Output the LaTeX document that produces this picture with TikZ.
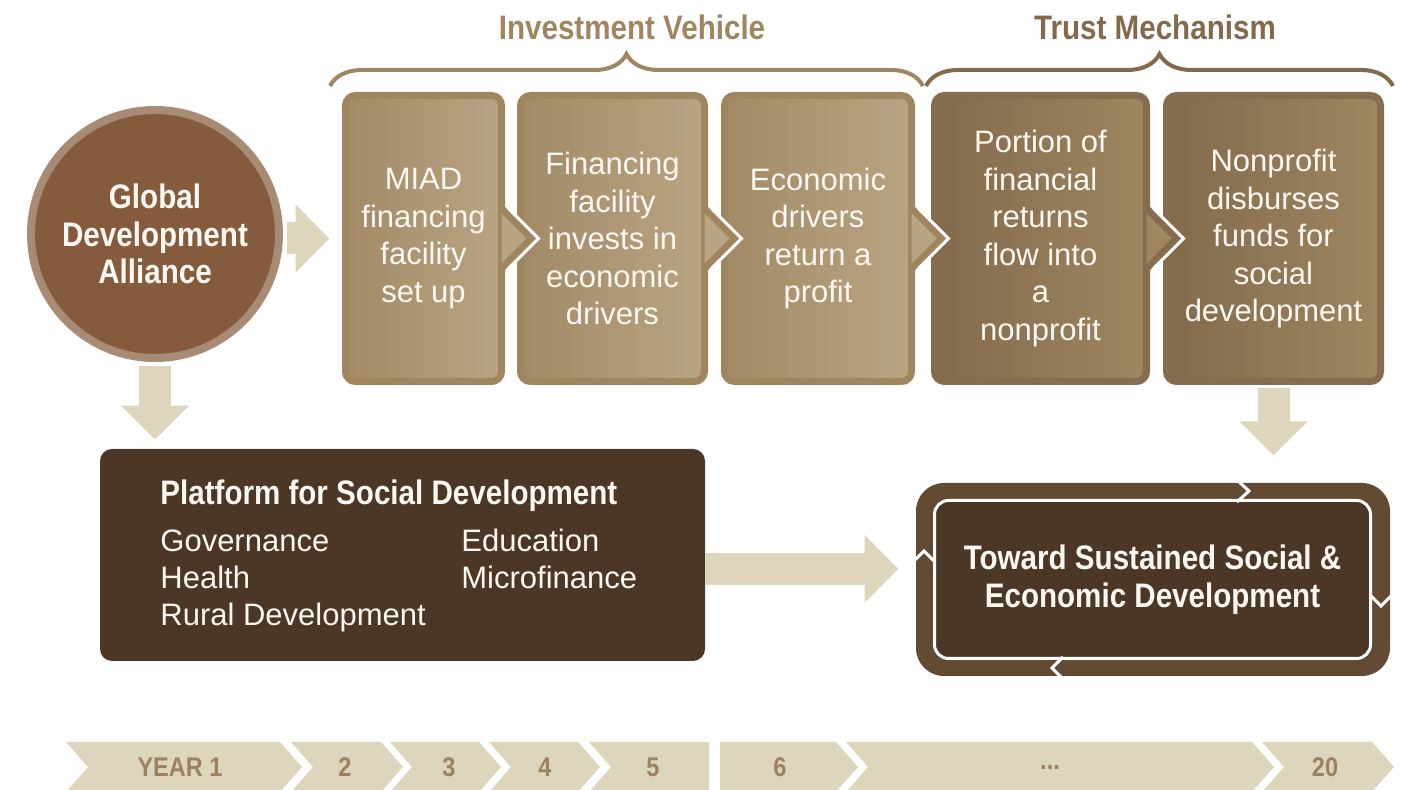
\documentclass[tikz,border=0pt]{standalone}
\usepackage{fontspec}
\setmainfont{Liberation Sans}
\newfontfamily\condfont[FakeStretch=0.87]{Liberation Sans}
\usepackage{tikz}
\usetikzlibrary{arrows.meta,calc,decorations.pathreplacing}

\definecolor{beige}{HTML}{DED5BD}
\definecolor{gdafill}{HTML}{855B3E}
\definecolor{gdaring}{HTML}{A88B74}
\definecolor{ivframe}{HTML}{9F865F}
\definecolor{ivleft}{HTML}{A28A66}
\definecolor{ivright}{HTML}{B9A483}
\definecolor{tmframe}{HTML}{876D4F}
\definecolor{tmleft}{HTML}{836A4C}
\definecolor{tmright}{HTML}{9E8661}
\definecolor{ivhead}{HTML}{A08660}
\definecolor{tmhead}{HTML}{85694B}
\definecolor{darkbox}{HTML}{4C3726}
\definecolor{loopring}{HTML}{634A33}
\definecolor{yeartext}{HTML}{9C8160}
\definecolor{boxtext}{HTML}{FBF8F2}

\begin{document}
\begin{tikzpicture}[x=0.5pt,y=-0.5pt,
	bodyfont/.style={font=\fontsize{15.5}{18.75}\selectfont},
	boldfont/.style={font=\condfont\fontsize{17}{18.75}\selectfont\bfseries},
	ivbox/.style={rectangle,rounded corners=5pt,left color=ivleft,right color=ivright,draw=ivframe,line width=3.5pt,minimum height=143pt,inner sep=0pt,align=center,text=boxtext,bodyfont},
	tmbox/.style={ivbox,left color=tmleft,right color=tmright,draw=tmframe},
	blockarrow/.style={beige,line width=16pt,-{Triangle[length=17pt,width=33pt]}},
	bracket/.style={decorate,decoration={brace,amplitude=16pt},line width=2pt},
	yearlabel/.style={text=yeartext,font=\condfont\fontsize{13.5}{14}\selectfont\bfseries}]
		\useasboundingbox (0,0) rectangle (1404,790);
		%
		\node[text=ivhead,boldfont] (ivtitle) at (632,27) {Investment Vehicle};
		\node[text=tmhead,boldfont] (tmtitle) at (1155,27) {Trust Mechanism};
		\draw[ivhead,bracket] (330,86) -- (923,86);
		\draw[tmhead,bracket] (926,86) -- (1393,86);
		%
		\node[ivbox,minimum width=78pt] (miad) at (423.5,238.5) {MIAD\\financing\\facility\\set up};
		\node[ivbox,minimum width=92pt] (invest) at (612.5,238.5) {Financing\\facility\\invests in\\economic\\drivers};
		\node[ivbox,minimum width=93.5pt] (profit) at (818,238.5) {Economic\\drivers\\return a\\profit};
		\node[tmbox,minimum width=106pt] (portion) at (1040.5,238.5) {Portion of\\financial\\returns\\flow into\\a\\nonprofit};
		\node[tmbox,minimum width=107pt] (nonprofit) at (1273.5,238.5) {Nonprofit\\disburses\\funds for\\social\\development};
		%
		\fill[ivframe] ($(miad.east)+(0,-31.5)$) -- ++(31.5,31.5) -- ++(-31.5,31.5) -- cycle;
		\fill[ivright] ($(miad.east)+(-3.5,-25)$) -- ++(25,25) -- ++(-25,25) -- cycle;
		\draw[white,line width=1.5pt] ($(miad.east)+(3.5,-30)$) -- ++(30,30) -- ++(-30,30);
		\fill[ivframe] ($(invest.east)+(0,-31.5)$) -- ++(31.5,31.5) -- ++(-31.5,31.5) -- cycle;
		\fill[ivright] ($(invest.east)+(-3.5,-25)$) -- ++(25,25) -- ++(-25,25) -- cycle;
		\draw[white,line width=1.5pt] ($(invest.east)+(3.5,-30)$) -- ++(30,30) -- ++(-30,30);
		\fill[ivframe] ($(profit.east)+(0,-31.5)$) -- ++(31.5,31.5) -- ++(-31.5,31.5) -- cycle;
		\fill[ivright] ($(profit.east)+(-3.5,-25)$) -- ++(25,25) -- ++(-25,25) -- cycle;
		\draw[white,line width=1.5pt] ($(profit.east)+(3.5,-30)$) -- ++(30,30) -- ++(-30,30);
		\fill[tmframe] ($(portion.east)+(0,-31.5)$) -- ++(31.5,31.5) -- ++(-31.5,31.5) -- cycle;
		\fill[tmright] ($(portion.east)+(-3.5,-25)$) -- ++(25,25) -- ++(-25,25) -- cycle;
		\draw[white,line width=1.5pt] ($(portion.east)+(3.5,-30)$) -- ++(30,30) -- ++(-30,30);
		%
		\node[circle,fill=gdafill,draw=gdaring,line width=4pt,minimum size=124pt,inner sep=0pt,align=center,text=boxtext,boldfont] (gda) at (155,234) {Global\\Development\\Alliance};
		%
		\node[rectangle,rounded corners=6pt,fill=darkbox,minimum width=302.5pt,minimum height=106pt] (platform) at (402.5,555) {};
		\node[boldfont,text=boxtext,anchor=base west,inner sep=0pt] (pftitle) at (160,505) {Platform for Social Development};
		\node[bodyfont,text=boxtext,anchor=base west,inner sep=0pt] (gov) at (160,552) {Governance};
		\node[bodyfont,text=boxtext,anchor=base west,inner sep=0pt] (health) at (160,589) {Health};
		\node[bodyfont,text=boxtext,anchor=base west,inner sep=0pt] (rural) at (160,626) {Rural Development};
		\node[bodyfont,text=boxtext,anchor=base west,inner sep=0pt] (edu) at (461,552) {Education};
		\node[bodyfont,text=boxtext,anchor=base west,inner sep=0pt] (micro) at (461,589) {Microfinance};
		%
		\fill[loopring,rounded corners=14pt] (916,483) rectangle (1390,676);
		\node[rectangle,rounded corners=7pt,fill=darkbox,draw=white,line width=1.5pt,minimum width=218pt,minimum height=79pt,inner sep=0pt,align=center,text=boxtext,boldfont] (final) at (1152.5,579.5) {Toward Sustained Social \&\\Economic Development};
		\draw[white,line width=1.5pt] (1237,480) -- (1249,491) -- (1237,502);
		\draw[white,line width=1.5pt] (1370,595) -- (1381,606) -- (1392,595);
		\draw[white,line width=1.5pt] (1063,657) -- (1052,668) -- (1063,679);
		\draw[white,line width=1.5pt] (913,562) -- (924,551) -- (935,562);
		%
		\coordinate (pfout) at ($(platform.east)+(0,14)$);
		\draw[blockarrow,shorten <=2pt,shorten >=6.25pt] (gda.east |- miad.west) -- (miad.west);
		\draw[blockarrow,shorten <=2pt,shorten >=4.5pt] (gda.south) -- (gda.south |- platform.north);
		\draw[blockarrow,shorten <=1.75pt,shorten >=21.75pt] (nonprofit.south) -- (nonprofit.south |- final.north);
		\draw[blockarrow,shorten >=17.25pt] (pfout) -- (pfout -| final.west);
		%
		\fill[beige] (66,742) -- (280,742) -- (302,767) -- (280,792) -- (66,792) -- (88,767) -- cycle;
		\fill[beige] (291,742) -- (381,742) -- (403,767) -- (381,792) -- (291,792) -- (313,767) -- cycle;
		\fill[beige] (390,742) -- (479,742) -- (501,767) -- (479,792) -- (390,792) -- (412,767) -- cycle;
		\fill[beige] (489,742) -- (578,742) -- (600,767) -- (578,792) -- (489,792) -- (511,767) -- cycle;
		\fill[beige] (589,742) -- (709,742) -- (709,792) -- (589,792) -- (611,767) -- cycle;
		\fill[beige] (720,742) -- (836,742) -- (858,767) -- (836,792) -- (720,792) -- cycle;
		\fill[beige] (846,742) -- (1252,742) -- (1274,767) -- (1252,792) -- (846,792) -- (868,767) -- cycle;
		\fill[beige] (1262,742) -- (1372,742) -- (1394,767) -- (1372,792) -- (1262,792) -- (1284,767) -- cycle;
		\node[yearlabel] (y1) at (180,767) {YEAR 1};
		\node[yearlabel] (y2) at (345,767) {2};
		\node[yearlabel] (y3) at (449,767) {3};
		\node[yearlabel] (y4) at (545,767) {4};
		\node[yearlabel] (y5) at (653,767) {5};
		\node[yearlabel] (y6) at (780,767) {6};
		\node[yearlabel] (ydots) at (1050,767) {...};
		\node[yearlabel] (y20) at (1325,767) {20};
\end{tikzpicture}
\end{document}
